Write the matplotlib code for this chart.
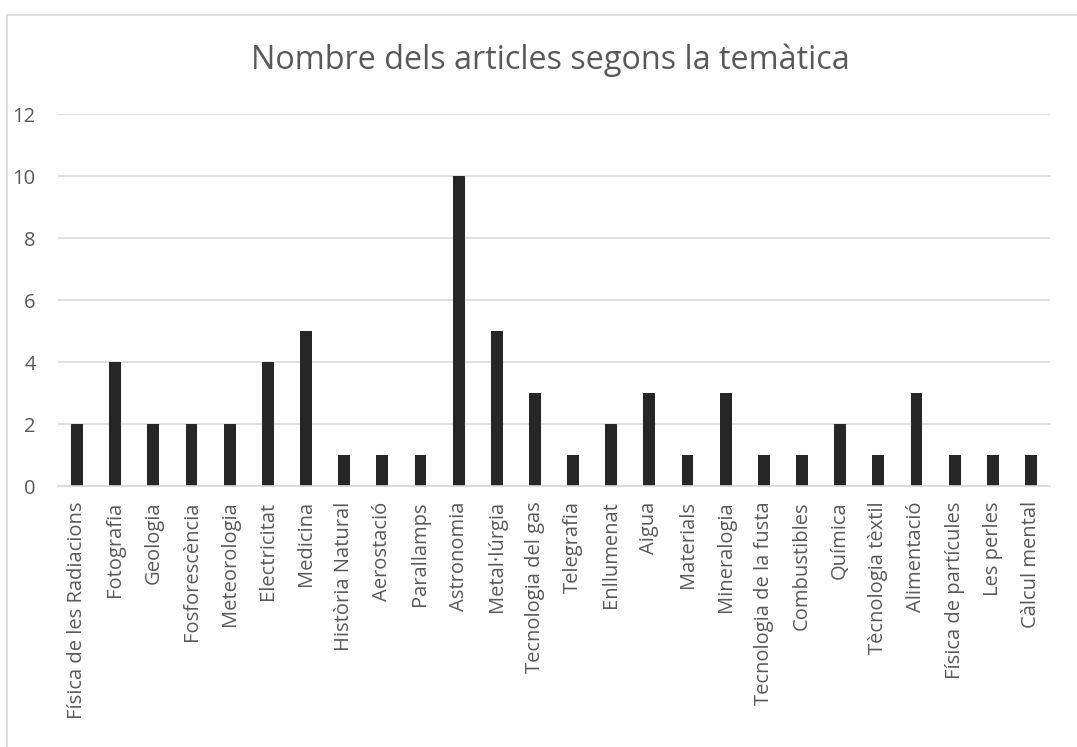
import matplotlib.pyplot as plt
from matplotlib.lines import Line2D
import numpy as np

temes = ["Física de les Radiacions", "Fotografia", "Geologia", "Fosforescència",
         "Meteorologia", "Electricitat", "Medicina", "Història Natural", "Aerostació",
         "Parallamps", "Astronomia", "Metal·lúrgia", "Tecnologia del gas", "Telegrafia",
         "Enllumenat", "Aigua", "Materials", "Mineralogia", "Tecnologia de la fusta",
         "Combustibles", "Química", "Tècnologia tèxtil", "Alimentació",
         "Física de partícules", "Les perles", "Càlcul mental"]
articles = [2, 4, 2, 2, 2, 4, 5, 1, 1, 1, 10, 5, 3, 1, 2, 3, 1, 3, 1, 1, 2, 1, 3, 1, 1, 1]
yticks = [0, 2, 4, 6, 8, 10, 12]

plt.rcParams['font.family'] = ['Open Sans', 'DejaVu Sans']
W, H = 1077, 747
grey_txt = "#595959"
grey_line = "#d9d9d9"

fig = plt.figure(figsize=(W / 100, H / 100), dpi=100)
ax = fig.add_axes([58 / W, 1 - 486 / H, 992 / W, 372 / H])

x = np.arange(len(temes))
ax.bar(x, articles, width=0.31, color="#262626", zorder=3)

ax.set_xlim(-0.5, len(temes) - 0.5)
ax.set_ylim(0, 12)
ax.set_yticks(yticks)
ax.set_yticklabels([str(v) for v in yticks])
ax.set_xticks(x)
ax.set_xticklabels(temes, rotation=90, va="top", ha="center")
ax.tick_params(axis="y", length=0, pad=16, labelsize=14.5, labelcolor=grey_txt)
ax.tick_params(axis="x", length=0, pad=11, labelsize=14.5, labelcolor=grey_txt)
ax.grid(axis="y", color=grey_line, linewidth=1.2, zorder=0)
for side in ["top", "right", "left"]:
    ax.spines[side].set_visible(False)
ax.spines["bottom"].set_color(grey_line)
ax.spines["bottom"].set_linewidth(1.2)
ax.spines["bottom"].set_zorder(4)

fig.text(550 / W, 1 - 69 / H, "Nombre dels articles segons la temàtica",
         ha="center", va="baseline", fontsize=23.3, color=grey_txt)

# marc del gràfic (només es veuen la part superior i l'esquerra)
fig.add_artist(Line2D([7 / W, 1], [1 - 15 / H, 1 - 15 / H], color=grey_line, linewidth=1.2))
fig.add_artist(Line2D([7 / W, 7 / W], [0, 1 - 15 / H], color=grey_line, linewidth=1.2))

fig.savefig("out.png", dpi=100)
